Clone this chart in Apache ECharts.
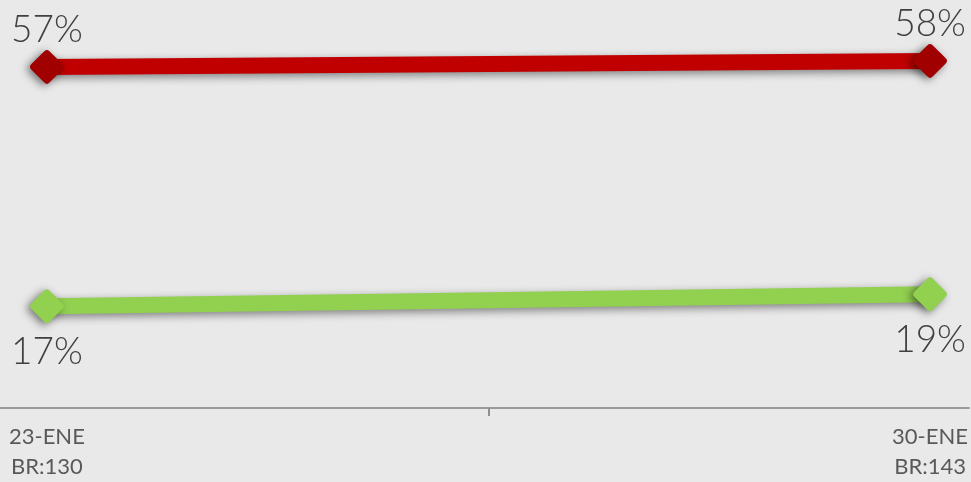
<!DOCTYPE html>
<html>
<head>
<meta charset="utf-8">
<script src="https://cdn.jsdelivr.net/npm/echarts@6/dist/echarts.min.js"></script>
<style>
  html, body { margin: 0; padding: 0; background: #e9e9e9; }
  #chart { width: 971px; height: 482px; }
</style>
</head>
<body>
<div id="chart"></div>
<script>
const categories = ['23-ENE\nBR:130', '30-ENE\nBR:143']
const redValues = [57, 58]
const greenValues = [17, 19]

const diamond = 'path://M43,7 Q50,0 57,7 L93,43 Q100,50 93,57 L57,93 Q50,100 43,93 L7,57 Q0,50 7,43 Z'
const toPairs = (vals) => vals.map((v, i) => [i, v])

const chart = echarts.init(document.getElementById('chart'), null, { renderer: 'canvas' })

const lineSeries = (vals, lineColor, markColor, labelPos, labelDist) => ({
  type: 'line',
  data: toPairs(vals),
  symbol: diamond,
  symbolSize: 34,
  lineStyle: {
    color: lineColor, width: 16,
    shadowColor: 'rgba(0,0,0,0.45)', shadowBlur: 8, shadowOffsetY: 3
  },
  itemStyle: {
    color: markColor, borderWidth: 0,
    shadowColor: 'rgba(0,0,0,0.5)', shadowBlur: 9, shadowOffsetX: -3, shadowOffsetY: 2
  },
  label: {
    show: true, position: labelPos, distance: labelDist,
    formatter: (p) => p.value[1] + '%',
    color: '#404040', fontSize: 37, fontFamily: 'Lato', fontWeight: 300
  },
  z: 2
})

chart.setOption({
  backgroundColor: '#e9e9e9',
  animation: false,
  grid: { left: 0, right: 0, top: 19, bottom: 73 },
  xAxis: {
    type: 'value',
    min: -47 / 885,
    max: 1 + 39 / 885,
    splitLine: { show: false },
    axisLine: { show: true, onZero: false, lineStyle: { color: '#9a9a9a', width: 2 } },
    axisTick: { show: true, customValues: [0.5], length: 8, lineStyle: { color: '#8f8f8f', width: 2 } },
    axisLabel: {
      customValues: [0, 1],
      formatter: (v) => categories[Math.round(v)],
      color: '#595959', fontSize: 22, fontFamily: 'Lato', lineHeight: 30, margin: 14
    }
  },
  yAxis: {
    type: 'value', min: 0, max: 65, show: false
  },
  series: [
    lineSeries(redValues, '#c00000', '#a00000', 'top', 1),
    lineSeries(greenValues, '#92d050', '#92d050', 'bottom', 10)
  ]
})
</script>
</body>
</html>
